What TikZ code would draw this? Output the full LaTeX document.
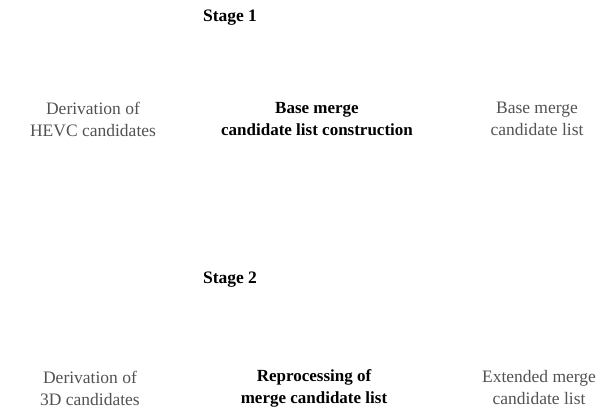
\documentclass[tikz,border=0pt]{standalone}
\usepackage{fontspec}
\setmainfont{Liberation Serif}
\begin{document}
\begin{tikzpicture}[x=1pt,y=-1pt,
  side/.style={align=center,text=black!68,font=\fontsize{17.5}{22}\selectfont,inner sep=0pt},
  mid/.style={align=center,text=black,font=\fontsize{17}{22}\selectfont\bfseries,inner sep=0pt},
  stage/.style={text=black,font=\fontsize{17.5}{22}\selectfont\bfseries,inner sep=0pt}]
\useasboundingbox (0,0) rectangle (615,409);
\node[stage] (s1) at (230,18) {Stage 1};
\node[side] (hevc) at (93,119) {Derivation of\\HEVC candidates};
\node[mid] (base) at (317,119) {Base merge\\candidate list construction};
\node[side] (blist) at (537,119) {Base merge\\candidate list};
\node[stage] (s2) at (230,280) {Stage 2};
\node[side] (d3) at (90,388) {Derivation of\\3D candidates};
\node[mid] (rep) at (314,388) {Reprocessing of\\merge candidate list};
\node[side] (ext) at (539,388) {Extended merge\\candidate list};
\end{tikzpicture}
\end{document}
